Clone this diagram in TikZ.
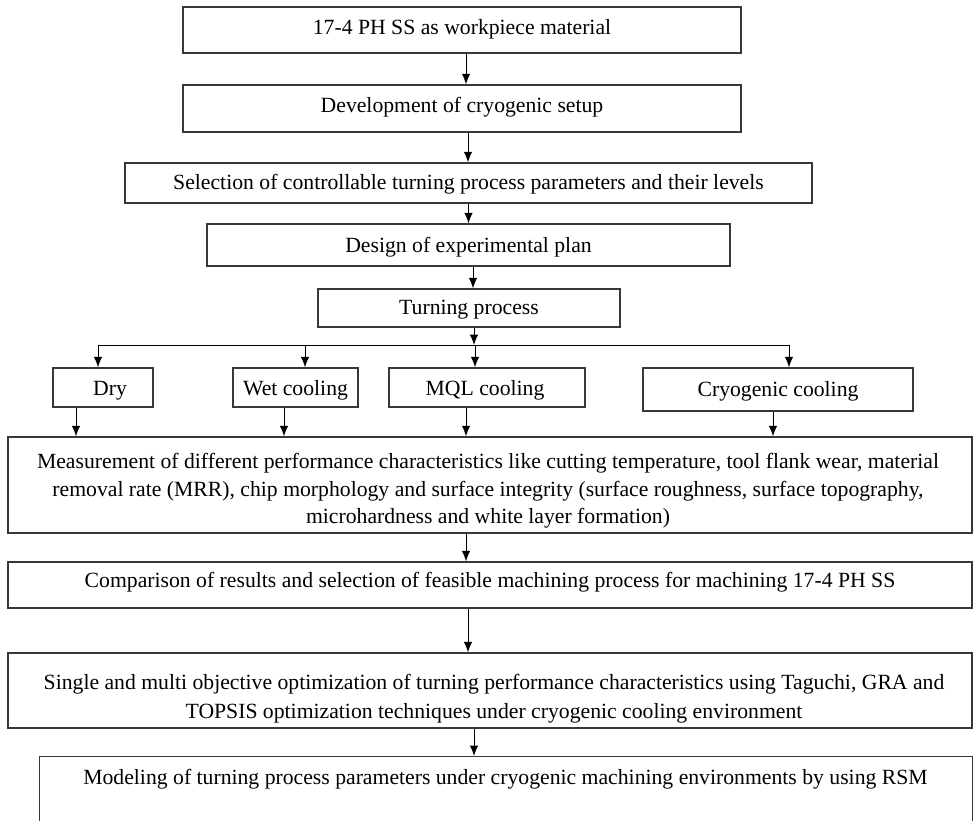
\documentclass[tikz,border=0pt]{standalone}
\usepackage{fontspec}
\setmainfont{Liberation Serif}
\usetikzlibrary{arrows.meta,calc}
\begin{document}
\begin{tikzpicture}[x=1pt,y=-1pt,
  frame/.style={draw=black!78, line width=1.3pt, rectangle, inner sep=0pt},
  txt/.style={inner sep=0pt, align=center, font=\fontsize{21.7}{28}\selectfont},
  arr/.style={draw=black, line width=1pt, -{Latex[length=10.5pt,width=8.5pt]}}]
\useasboundingbox[fill=white] (0,0) rectangle (975,821);
\clip (0,0) rectangle (975,821);

% frames
\node[frame, minimum width=558pt, minimum height=46pt] (b1) at (462,30) {};
\node[frame, minimum width=558pt, minimum height=47pt] (b2) at (462,108.5) {};
\node[frame, minimum width=687pt, minimum height=40pt] (b3) at (468.5,183) {};
\node[frame, minimum width=523pt, minimum height=42pt] (b4) at (468.5,245) {};
\node[frame, minimum width=302pt, minimum height=38pt] (b5) at (469,308) {};
\node[frame, minimum width=100pt, minimum height=39pt] (dry) at (103,387.5) {};
\node[frame, minimum width=125pt, minimum height=39pt] (wet) at (295.5,387.5) {};
\node[frame, minimum width=196pt, minimum height=39pt] (mql) at (487,387.5) {};
\node[frame, minimum width=270pt, minimum height=43pt] (cryo) at (778,389.5) {};
\node[frame, minimum width=964pt, minimum height=96pt] (meas) at (490,485) {};
\node[frame, minimum width=964pt, minimum height=46pt] (comp) at (490,585) {};
\node[frame, minimum width=964pt, minimum height=75pt] (single) at (490,690.5) {};
\node[frame, anchor=north west, minimum width=933pt, minimum height=90pt] (model) at (39,756) {};

% texts
\node[txt] (t1) at (462,29) {17-4 PH SS as workpiece material};
\node[txt] (t2) at (462,107) {Development of cryogenic setup};
\node[txt] (t3) at (468.5,184) {Selection of controllable turning process parameters and their levels};
\node[txt] (t4) at (468.5,247) {Design of experimental plan};
\node[txt] (t5) at (469,310) {Turning process};
\node[txt] (tdry) at (110,391) {Dry};
\node[txt] (twet) at (295.5,390) {Wet cooling};
\node[txt] (tmql) at (485,390) {MQL cooling};
\node[txt] (tcryo) at (778,391) {Cryogenic cooling};
\node[txt, font=\fontsize{21.7}{27.5}\selectfont] (tmeas) at (488,491)
  {Measurement of different performance characteristics like cutting temperature, tool flank wear, material\\
   removal rate (MRR), chip morphology and surface integrity (surface roughness, surface topography,\\
   microhardness and white layer formation)};
\node[txt] (tcomp) at (490,582)
  {Comparison of results and selection of feasible machining process for machining 17-4 PH SS};
\node[txt, font=\fontsize{21.7}{29}\selectfont] (tsingle) at (494,699)
  {Single and multi objective optimization of turning performance characteristics using Taguchi, GRA and\\
   TOPSIS optimization techniques under cryogenic cooling environment};
\node[txt] (tmodel) at (505.5,779)
  {Modeling of turning process parameters under cryogenic machining environments by using RSM};

% vertical chain
\draw[arr] ([xshift=4pt]b1.south) -- ([xshift=4pt]b1.south |- b2.north);
\draw[arr] ([xshift=6pt]b2.south) -- ([xshift=6pt]b2.south |- b3.north);
\draw[arr] (b3.south) -- (b3.south |- b4.north);
\draw[arr] ([xshift=4.5pt]b4.south) -- ([xshift=4.5pt]b4.south |- b5.north);

% distribution
\coordinate (J) at (474,345);
\draw[arr] ([xshift=5pt]b5.south) -- (J);
\draw[arr] (J) -| ([xshift=-5pt]dry.north);
\draw[arr] (J) -| ([xshift=9.5pt]wet.north);
\draw[arr] ([xshift=-12pt]mql.north |- J) -- ([xshift=-12pt]mql.north);
\draw[arr] (J) -| ([xshift=11pt]cryo.north);

% into measurement
\draw[arr] ([xshift=-27pt]dry.south) -- ([xshift=-27pt]dry.south |- meas.north);
\draw[arr] ([xshift=-11.5pt]wet.south) -- ([xshift=-11.5pt]wet.south |- meas.north);
\draw[arr] ([xshift=-21pt]mql.south) -- ([xshift=-21pt]mql.south |- meas.north);
\draw[arr] ([xshift=-5pt]cryo.south) -- ([xshift=-5pt]cryo.south |- meas.north);

% lower chain
\draw[arr] ([xshift=-24pt]meas.south) -- ([xshift=-24pt]meas.south |- comp.north);
\draw[arr] ([xshift=-22pt]comp.south) -- ([xshift=-22pt]comp.south |- single.north);
\draw[arr] ([xshift=-16pt]single.south) -- ([xshift=-16pt]single.south |- model.north);
\end{tikzpicture}
\end{document}
